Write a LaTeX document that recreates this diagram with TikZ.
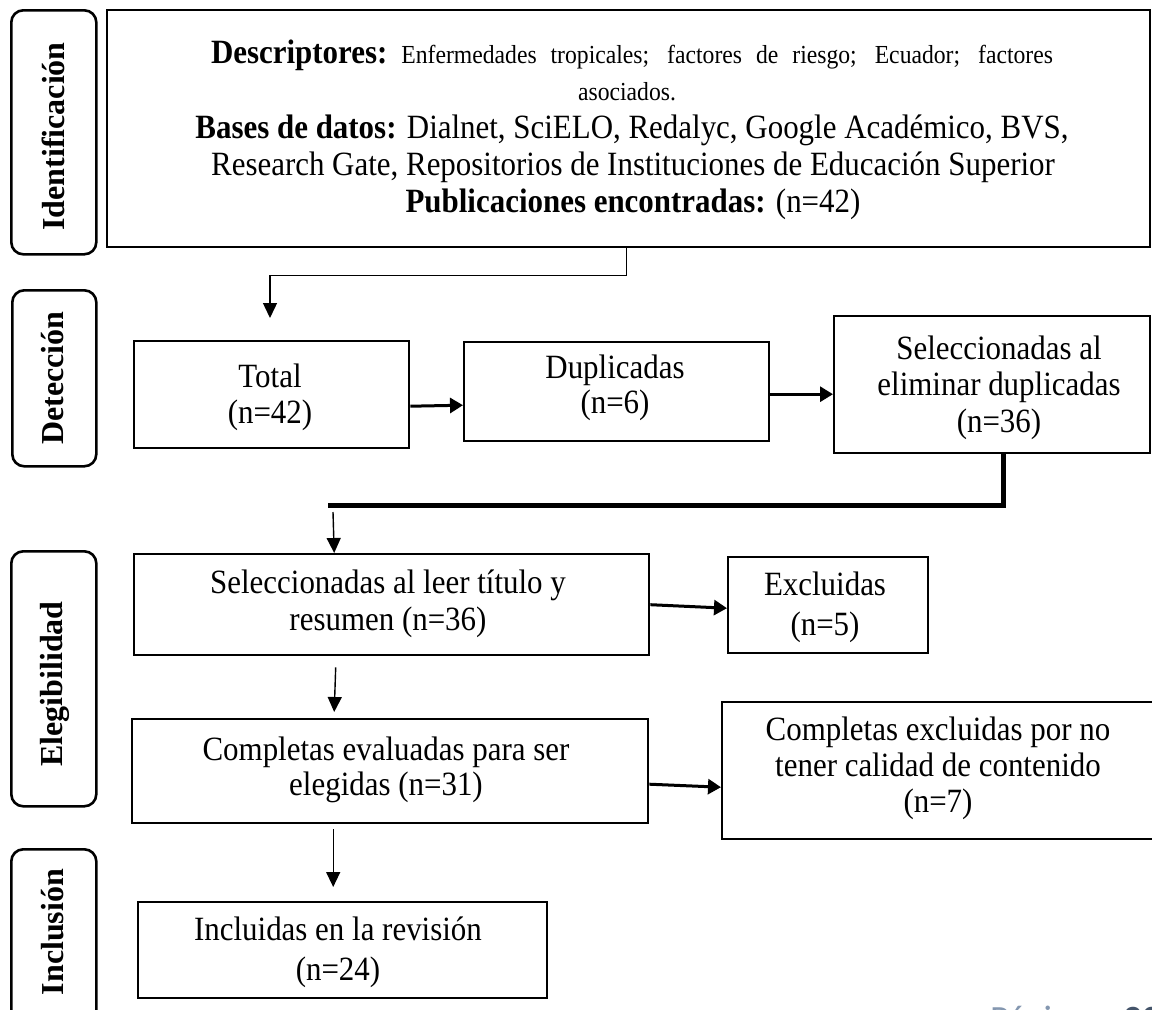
\documentclass[tikz,border=0pt]{standalone}
\usepackage{fontspec}
\setmainfont{Liberation Serif}[FakeStretch=0.91]
\newfontfamily\labfont{Liberation Serif}
\newfontfamily\footfont{Carlito}
\usetikzlibrary{arrows.meta}
\definecolor{footgray}{HTML}{8497B0}
\definecolor{footdark}{HTML}{44546A}
\begin{document}
\begin{tikzpicture}[x=1pt,y=-1pt,
  bx/.style={draw=black, line width=2.4pt, inner sep=0pt, anchor=north west},
  lab/.style={draw=black, line width=2.6pt, rounded corners=12pt, inner sep=0pt, anchor=north west},
  labtxt/.style={rotate=90, inner sep=0pt, font=\labfont\fontsize{32}{36}\selectfont\bfseries},
  tx/.style={align=center, inner sep=0pt},
  ln/.style={inner sep=0pt, anchor=base},
  cn/.style={draw=black, line width=1.4pt},
  arr/.style={cn, -{Triangle[length=15pt,width=14pt]}},
  sarr/.style={draw=black, line width=3pt, -{Triangle[length=13pt,width=15pt]}},
  thk/.style={draw=black, line width=5pt},
]
\useasboundingbox (0,0) rectangle (1152,1010);
\fill[white] (0,0) rectangle (1152,1010);
\clip (0,0) rectangle (1152,1010);

% phase labels
\node[lab, minimum width=85pt, minimum height=244pt] (l1) at (10,9) {};
\node[lab, minimum width=84pt, minimum height=176pt] (l2) at (11,289) {};
\node[lab, minimum width=85pt, minimum height=255pt] (l3) at (10,550) {};
\node[lab, minimum width=85pt, minimum height=190pt] (l4) at (10,848) {};
\node[labtxt] (l1T) at (53,136.5) {Identificación};
\node[labtxt] (l2T) at (53,378) {Detección};
\node[labtxt] (l3T) at (55,684) {Elegibilidad};
\node[labtxt] (l4T) at (53,932) {Inclusión};

% boxes
\node[bx, minimum width=1043pt, minimum height=237pt] (top) at (106,9) {};
\node[bx, minimum width=275pt, minimum height=107pt] (tot) at (133,340) {};
\node[bx, minimum width=305pt, minimum height=99pt] (dup) at (463,341) {};
\node[bx, minimum width=316pt, minimum height=137pt] (sel1) at (833,315) {};
\node[bx, minimum width=515pt, minimum height=101pt] (sel2) at (133,553) {};
\node[bx, minimum width=200pt, minimum height=96pt] (exc) at (727,556) {};
\node[bx, minimum width=516pt, minimum height=104pt] (comp) at (131,718) {};
\node[bx, minimum width=435pt, minimum height=137pt] (comp2) at (721,701) {};
\node[bx, minimum width=409pt, minimum height=96pt] (inc) at (137,901) {};

% top box text
\node[ln] (d1) at (632,63) {\makebox[842pt][s]{\fontsize{34}{38}\selectfont\bfseries Descriptores:\fontsize{26}{30}\selectfont\mdseries\ Enfermedades tropicales; factores de riesgo; Ecuador; factores}};
\node[ln, font=\fontsize{26}{30}\selectfont] (d2) at (627,100) {asociados.};
\node[ln, font=\fontsize{34}{38}\selectfont] (d3) at (632,138) {\textbf{Bases de datos:} Dialnet, SciELO, Redalyc, Google Académico, BVS,};
\node[ln, font=\fontsize{34}{38}\selectfont] (d4) at (633,175) {Research Gate, Repositorios de Instituciones de Educación Superior};
\node[ln, font=\fontsize{34}{38}\selectfont] (d5) at (633,212) {\textbf{Publicaciones encontradas:} (n=42)};

% box texts
\node[tx, font=\fontsize{34}{36}\selectfont] (totT) at (270,397) {Total\\(n=42)};
\node[tx, font=\fontsize{34}{35}\selectfont] (dupT) at (615,387.5) {Duplicadas\\(n=6)};
\node[tx, font=\fontsize{34}{36.5}\selectfont] (sel1T) at (999,387.5) {Seleccionadas al\\eliminar duplicadas\\(n=36)};
\node[tx, font=\fontsize{34}{37}\selectfont] (sel2T) at (388,603.5) {Seleccionadas al leer título y\\resumen (n=36)};
\node[tx, font=\fontsize{34}{40}\selectfont] (excT) at (825,607) {Excluidas\\(n=5)};
\node[tx, font=\fontsize{34}{35}\selectfont] (compT) at (386,769.5) {Completas evaluadas para ser\\elegidas (n=31)};
\node[tx, font=\fontsize{34}{36}\selectfont] (comp2T) at (938,768) {Completas excluidas por no\\tener calidad de contenido\\(n=7)};
\node[tx, font=\fontsize{34}{40}\selectfont] (incT) at (338,952) {Incluidas en la revisión\\(n=24)};

% connectors
\coordinate (a1) at (270,318);
\draw[arr] ([xshift=-2.5pt]top.south) -- ++(0,27) -| (a1);
\draw[sarr] ([yshift=-11.5pt]tot.east) -- ([yshift=-13.5pt]dup.west);
\draw[sarr] ([yshift=-2.5pt]dup.east) -- ([yshift=-9.5pt]sel1.west);
\coordinate (t1) at (328,505);
\draw[thk] ([xshift=11pt]sel1.south) |- (t1);
\coordinate (t2) at (333,512);
\draw[arr] (t2) -- ([xshift=-57.5pt]sel2.north);
\draw[sarr] (sel2.east) -- ([yshift=-3pt]exc.west);
\draw[arr] ([xshift=-56pt,yshift=-11pt]sel2.south) -- ([xshift=-56pt,yshift=6pt]comp.north);
\draw[sarr] ([yshift=-13pt]comp.east) -- ([yshift=-16.5pt]comp2.west);
\draw[arr] ([xshift=-57pt,yshift=-5pt]comp.south) -- ([xshift=-9.5pt,yshift=14pt]inc.north);

% page footer (cut off at the lower edge, as in the reference)
\node[inner sep=0pt, anchor=base west, font=\footfont\fontsize{37}{40}\selectfont, text=footgray] (foot) at (990,1031) {Página\hspace*{34pt}\textcolor{footdark}{\textbf{20}}};
\end{tikzpicture}
\end{document}
